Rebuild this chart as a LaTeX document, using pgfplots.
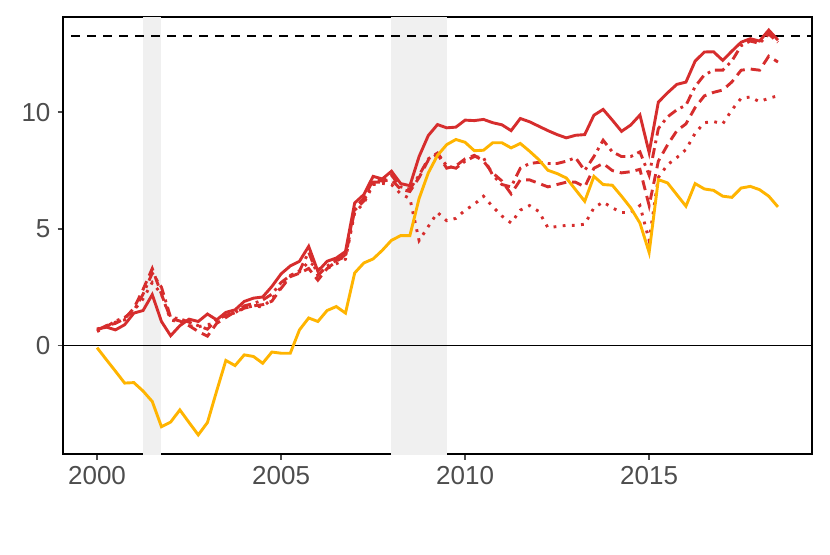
\documentclass[border=0pt]{standalone}
\usepackage{fontspec}
\setmainfont{Liberation Sans}
\usepackage{pgfplots}
\usepackage{pgfplotstable}
\pgfplotsset{compat=1.18}
\definecolor{myred}{RGB}{214,45,45}
\definecolor{myorange}{RGB}{255,180,0}
\definecolor{recgray}{RGB}{240,240,240}
\definecolor{ticktext}{RGB}{77,77,77}
\pgfplotstableread{
t solid dash dotdash dot orange
2000.00 0.70 0.65 0.60 0.70 -0.09
2000.25 0.79 0.85 0.80 0.85 -0.60
2000.50 0.67 0.95 1.05 1.00 -1.10
2000.75 0.89 1.15 1.20 1.10 -1.61
2001.00 1.39 1.60 1.50 1.50 -1.59
2001.25 1.50 2.40 2.20 2.00 -1.95
2001.50 2.18 3.30 3.10 2.70 -2.40
2001.75 1.03 2.20 2.50 2.20 -3.48
2002.00 0.42 1.15 1.20 1.10 -3.28
2002.25 0.85 1.05 1.15 1.00 -2.76
2002.50 1.13 0.85 1.00 0.85 -3.30
2002.75 1.03 0.60 0.85 0.80 -3.83
2003.00 1.35 0.40 0.70 0.90 -3.30
2003.25 1.10 0.95 1.10 0.95 -1.95
2003.50 1.42 1.20 1.30 1.30 -0.64
2003.75 1.53 1.45 1.40 1.40 -0.86
2004.00 1.89 1.60 1.70 1.60 -0.40
2004.25 2.03 1.70 1.80 1.70 -0.47
2004.50 2.08 1.75 1.95 1.65 -0.76
2004.75 2.53 1.90 2.20 2.00 -0.28
2005.00 3.07 2.45 2.70 2.50 -0.33
2005.25 3.41 2.95 3.00 3.00 -0.33
2005.50 3.61 3.10 3.20 3.15 0.67
2005.75 4.25 3.30 4.00 3.60 1.18
2006.00 3.18 2.80 3.00 3.30 1.03
2006.25 3.61 3.30 3.40 3.30 1.50
2006.50 3.75 3.60 3.65 3.50 1.67
2006.75 4.03 3.90 3.80 3.70 1.39
2007.00 6.11 5.90 5.80 5.70 3.11
2007.25 6.47 6.30 6.20 6.10 3.54
2007.50 7.25 7.10 7.00 6.90 3.71
2007.75 7.14 7.05 7.00 6.95 4.08
2008.00 7.47 7.10 7.30 6.90 4.51
2008.25 6.94 6.70 6.80 6.50 4.71
2008.50 6.85 6.60 6.70 6.30 4.71
2008.75 8.10 7.20 7.30 4.50 6.30
2009.00 9.00 7.95 8.00 5.10 7.40
2009.25 9.47 8.20 8.25 5.70 8.15
2009.50 9.33 7.60 7.70 5.35 8.61
2009.75 9.36 7.70 7.60 5.45 8.83
2010.00 9.66 8.00 7.90 5.80 8.71
2010.25 9.64 8.15 8.10 6.05 8.35
2010.50 9.69 7.90 8.05 6.40 8.37
2010.75 9.55 7.40 7.30 5.95 8.69
2011.00 9.46 7.05 6.90 5.55 8.69
2011.25 9.21 6.50 6.80 5.25 8.47
2011.50 9.73 7.10 7.60 5.80 8.66
2011.75 9.59 7.10 7.80 6.00 8.33
2012.00 9.40 6.95 7.85 5.75 7.97
2012.25 9.21 6.80 7.80 5.05 7.51
2012.50 9.04 6.90 7.80 5.10 7.37
2012.75 8.90 7.00 7.90 5.15 7.18
2013.00 9.01 7.00 8.05 5.15 6.68
2013.25 9.04 6.80 7.50 5.20 6.18
2013.50 9.87 7.60 8.10 5.90 7.25
2013.75 10.12 7.80 8.80 6.15 6.90
2014.00 9.66 7.50 8.30 5.90 6.87
2014.25 9.18 7.40 8.10 5.70 6.40
2014.50 9.45 7.45 8.10 5.70 5.90
2014.75 9.88 7.55 8.30 6.00 5.25
2015.00 8.27 6.00 7.30 4.50 3.99
2015.25 10.43 7.90 9.30 7.20 7.11
2015.50 10.83 8.60 9.80 7.75 6.97
2015.75 11.19 9.20 10.10 8.05 6.47
2016.00 11.29 9.50 10.30 8.40 5.97
2016.25 12.19 10.20 11.10 9.10 6.94
2016.50 12.58 10.70 11.60 9.55 6.71
2016.75 12.59 10.85 11.80 9.60 6.65
2017.00 12.22 10.95 11.80 9.50 6.40
2017.25 12.62 11.30 12.20 10.10 6.35
2017.50 13.00 11.80 12.85 10.60 6.75
2017.75 13.15 11.85 13.05 10.65 6.82
2018.00 13.05 11.80 12.95 10.45 6.68
2018.25 13.52 12.40 13.35 10.60 6.40
2018.50 13.09 12.15 13.00 10.70 5.94
}\datatable
\begin{document}
\begin{tikzpicture}
\begin{axis}[
  name=ax,
  scale only axis,
  width=374.5pt, height=218.5pt,
  xmin=1999.075, xmax=2019.425,
  ymin=-4.65, ymax=14.08,
  xtick={2000,2005,2010,2015},
  xticklabels={2000,2005,2010,2015},
  ytick={0,5,10},
  yticklabels={0,5,10},
  tick pos=left,
  tick align=outside,
  major tick length=2.75pt,
  tick style={ticktext, line width=0.7pt},
  axis line style={black, line width=0.6pt},
  ticklabel style={font=\fontsize{13}{15}\selectfont, text=ticktext},
  clip=true,
]
\addplot[draw=none, fill=recgray] coordinates {(2001.25,-6) (2001.75,-6) (2001.75,16) (2001.25,16)};
\addplot[draw=none, fill=recgray] coordinates {(2008.0,-6) (2009.5,-6) (2009.5,16) (2008.0,16)};
\addplot[black, line width=0.8pt] coordinates {(1998,0) (2020,0)};
\addplot[black, line width=0.9pt, dash pattern=on 4.5pt off 3.5pt] coordinates {(1998,13.25) (2020,13.25)};
\addplot[myred, line width=1.45pt, line cap=butt, dash pattern=on 1.4pt off 3.2pt] table[x=t,y=dot] {\datatable};
\addplot[myred, line width=1.45pt, line cap=butt, dash pattern=on 5pt off 3pt] table[x=t,y=dash] {\datatable};
\addplot[myred, line width=1.45pt, line cap=butt, dash pattern=on 1.4pt off 2.5pt on 5pt off 2.5pt] table[x=t,y=dotdash] {\datatable};
\addplot[myred, line width=1.45pt] table[x=t,y=solid] {\datatable};
\addplot[myorange, line width=1.45pt] table[x=t,y=orange] {\datatable};
\end{axis}
\path ([shift={(-31.5pt,-50pt)}]ax.south west) rectangle ([shift={(9pt,8.5pt)}]ax.north east);
\end{tikzpicture}
\end{document}
